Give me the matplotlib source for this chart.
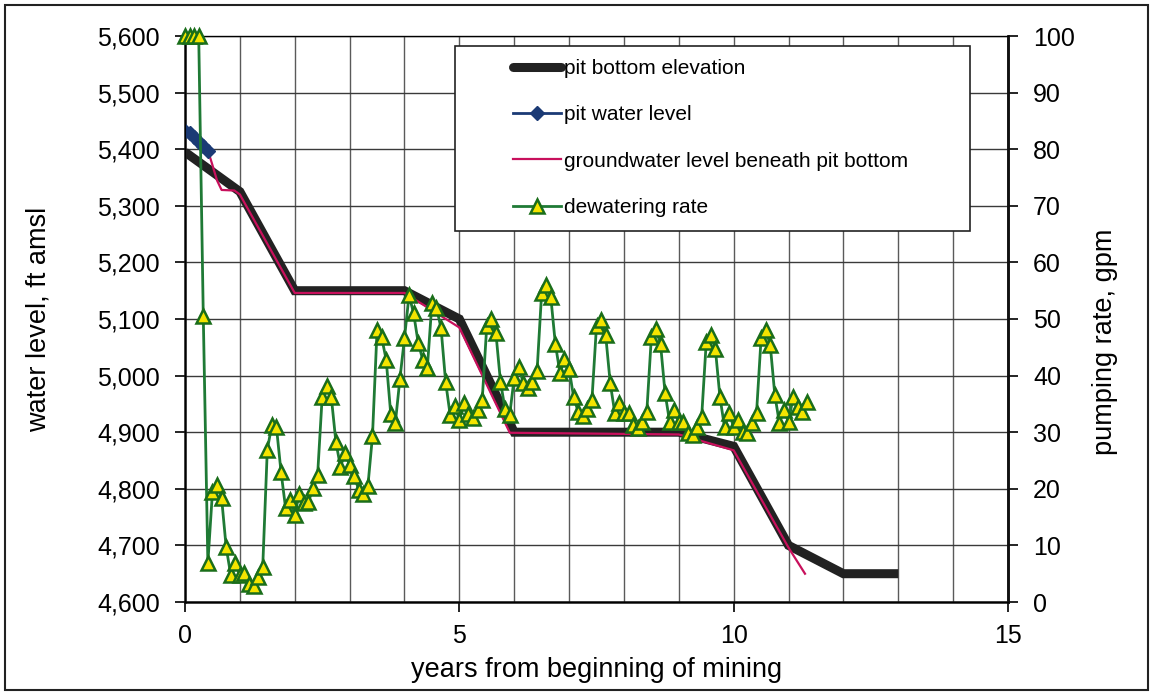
import numpy as np
import matplotlib
matplotlib.use("Agg")
import matplotlib.pyplot as plt
from matplotlib.patches import Rectangle
from matplotlib.lines import Line2D
from matplotlib.ticker import FuncFormatter, MultipleLocator

plt.rcParams['font.family'] = ['Liberation Sans', 'DejaVu Sans']

# ---- data ----
pit_bottom_years = [0, 1, 2, 4, 5, 6, 9, 10, 11, 12, 13]
pit_bottom_elev = [5395, 5325, 5150, 5150, 5100, 4900, 4900, 4875, 4700, 4650, 4650]

pit_water_years = [0, 0.083, 0.167, 0.25, 0.333, 0.417]
pit_water_elev = [5433, 5428, 5421, 5413, 5405, 5396]

gw_years = [0, 0.083, 0.167, 0.25, 0.333, 0.417, 0.5, 0.583, 0.667, 0.9, 1.0,
            2.0, 4.0, 5.0, 5.92, 9.0, 10.0, 11.0, 11.3]
gw_elev = [5432, 5428, 5421, 5413, 5405, 5398, 5372, 5345, 5328, 5327, 5320,
           5146, 5146, 5085, 4899, 4896, 4868, 4696, 4650]

# dewatering rate, gpm (monthly steps)
rate_gpm = [100, 100, 100, 100, 50.5, 6.9, 19.4, 20.7, 18.4, 9.7,
            4.8, 6.9, 4.8, 5.1, 3.2, 2.8, 4.4, 6.2, 26.9, 31.3,
            30.9, 23.0, 16.6, 18.0, 15.4, 19.1, 17.5, 17.7, 20.1, 22.4,
            36.2, 38.2, 36.2, 28.3, 23.9, 26.3, 24.2, 22.3, 19.8, 19.1,
            20.5, 29.3, 48.0, 46.8, 42.8, 33.2, 31.6, 39.4, 46.6, 54.2,
            51.0, 45.8, 42.8, 41.3, 52.8, 52.0, 48.4, 38.9, 33.0, 34.7,
            32.2, 35.1, 33.2, 32.5, 33.9, 35.7, 48.8, 50.0, 47.5, 38.9,
            34.1, 33.0, 39.6, 41.5, 38.7, 37.8, 38.9, 40.8, 54.6, 56.0,
            53.9, 45.6, 40.5, 42.9, 41.2, 36.2, 33.6, 32.9, 34.1, 35.7,
            48.8, 49.8, 47.2, 38.7, 33.4, 35.2, 33.4, 33.4, 31.3, 30.7,
            31.8, 33.6, 46.8, 48.2, 45.6, 36.9, 31.8, 33.9, 31.8, 31.8,
            29.9, 29.5, 30.9, 32.7, 45.9, 47.2, 44.7, 36.2, 30.9, 33.4,
            30.9, 32.2, 30.0, 29.9, 31.6, 33.4, 46.6, 48.1, 45.4, 36.6,
            31.6, 33.9, 31.8, 36.2, 34.4, 33.6, 35.3]
rate_years = np.arange(len(rate_gpm)) / 12.0

left_ticks = list(range(4600, 5601, 100))
right_ticks = list(range(0, 101, 10))
x_ticks = [0, 5, 10, 15]

# ---- figure ----
W, H = 1153, 692
fig = plt.figure(figsize=(W / 100, H / 100), dpi=100)
L, R, T, B = 185, 1008, 36, 602
ax = fig.add_axes([L / W, 1 - B / H, (R - L) / W, (B - T) / H])

ax.set_xlim(0, 15)
ax.set_ylim(4600, 5600)

ax.set_xticks(x_ticks)
ax.xaxis.set_minor_locator(MultipleLocator(1))
ax.set_yticks(left_ticks)
ax.yaxis.set_major_formatter(FuncFormatter(lambda v, p: f"{int(v):,}"))

ax.grid(True, which='both', axis='x', color='#5a5a5a', lw=1.0)
ax.grid(True, which='major', axis='y', color='#3a3a3a', lw=1.0)
ax.set_axisbelow(True)

ax.tick_params(axis='x', which='major', direction='out', length=7, width=1.2,
               labelsize=18, pad=9)
ax.tick_params(axis='x', which='minor', length=0)
ax.tick_params(axis='y', direction='out', length=7, width=1.2, labelsize=18, pad=11)

for s in ['left', 'bottom']:
    ax.spines[s].set_linewidth(1.8)
    ax.spines[s].set_color('#111111')
ax.spines['top'].set_color('#555555')
ax.spines['top'].set_linewidth(1.0)
ax.spines['right'].set_linewidth(1.8)

ax.plot(pit_bottom_years, pit_bottom_elev, color='#222222', lw=6.5,
        solid_capstyle='butt', solid_joinstyle='miter', zorder=3)
ax.plot(gw_years, gw_elev, color='#c8105c', lw=1.6, zorder=4)
ax.plot(pit_water_years, pit_water_elev, color='#1b3a75', lw=2, marker='D',
        markersize=7, zorder=5)

ax.set_ylabel('water level, ft amsl', fontsize=19.5)
ax.yaxis.set_label_coords(-0.162, 0.5)
ax.set_xlabel('years from beginning of mining', fontsize=19.5)
ax.xaxis.set_label_coords(0.5, -0.098)

ax2 = ax.twinx()
ax2.set_ylim(0, 100)
ax2.set_yticks(right_ticks)
ax2.tick_params(axis='y', direction='out', length=7, width=1.2, labelsize=18, pad=11)
ax2.spines['right'].set_linewidth(1.8)
ax2.spines['right'].set_color('#111111')
ax2.plot(rate_years, rate_gpm, color='#1f7a35', lw=2.0, marker='^',
         markersize=10, markerfacecolor='#f4e400', markeredgecolor='#1a6e1a',
         markeredgewidth=1.8, zorder=3, clip_on=False)
ax2.set_ylabel('pumping rate, gpm', fontsize=19.5)
ax2.yaxis.set_label_coords(1.102, 0.46)

# legend box
bx0 = (455 - L) / (R - L)
bx1 = (970 - L) / (R - L)
by0 = (B - 231) / (B - T)
by1 = (B - 46) / (B - T)
rect = Rectangle((bx0, by0), bx1 - bx0, by1 - by0, transform=ax2.transAxes,
                 facecolor='white', edgecolor='#222222', lw=1.2, zorder=8)
ax2.add_patch(rect)

handles = [
    Line2D([], [], color='#222222', lw=6.5, solid_capstyle='round'),
    Line2D([], [], color='#1b3a75', lw=2, marker='D', markersize=7),
    Line2D([], [], color='#c8105c', lw=1.6),
    Line2D([], [], color='#1f7a35', lw=2.0, marker='^', markersize=10,
           markerfacecolor='#f4e400', markeredgecolor='#1a6e1a', markeredgewidth=1.8),
]
labels = ['pit bottom elevation', 'pit water level',
          'groundwater level beneath pit bottom', 'dewatering rate']
leg = ax2.legend(handles, labels, loc='upper left',
                 bbox_to_anchor=((513 - L) / (R - L), (B - 59) / (B - T)),
                 frameon=False, fontsize=15, handlelength=2.3,
                 handletextpad=0.15, labelspacing=1.31, borderpad=0,
                 borderaxespad=0)
leg.set_zorder(10)

# outer border
fig.patches.append(Rectangle((5 / W, 1 - 690 / H), (1148 - 5) / W, (690 - 5) / H,
                             transform=fig.transFigure, fill=False,
                             edgecolor='#222222', lw=1.5))

fig.savefig('out.png', dpi=100)
